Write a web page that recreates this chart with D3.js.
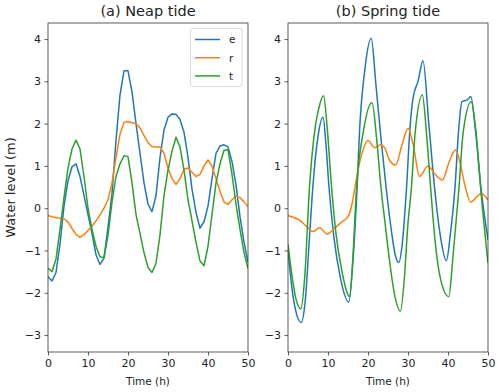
<!DOCTYPE html>
<html>
<head>
<meta charset="utf-8">
<script src="https://cdn.jsdelivr.net/npm/d3@7"></script>
<style>
  body { margin: 0; background: #fff; }
  svg { font-family: "DejaVu Sans", sans-serif; }
</style>
</head>
<body>
<script>
// neap tide, hourly samples t = 0..50
var neapHours = d3.range(0, 51);
var neapE = [-1.62, -1.72, -1.52, -0.85, 0.05, 0.65, 0.98, 1.05, 0.75, 0.3, -0.15,
    -0.6, -1.1, -1.33, -1.18, -0.45, 0.35, 1.6, 2.68, 3.25, 3.25,
    2.75, 2.0, 1.3, 0.6, 0.1, -0.08, 0.3, 1.2, 1.85, 2.15,
    2.23, 2.22, 2.1, 1.8, 1.2, 0.45, -0.1, -0.47, -0.32, 0.05,
    0.7, 1.3, 1.47, 1.5, 1.45, 1.1, 0.55, -0.2, -0.8, -1.28];
var neapR = [-0.17, -0.2, -0.22, -0.24, -0.25, -0.33, -0.48, -0.62, -0.69, -0.62, -0.53,
    -0.42, -0.3, -0.16, 0.0, 0.2, 0.6, 1.2, 1.75, 2.03, 2.05,
    2.02, 2.0, 1.9, 1.72, 1.55, 1.46, 1.45, 1.45, 1.3, 0.95,
    0.7, 0.56, 0.7, 0.92, 0.95, 0.85, 0.75, 0.8, 1.0, 1.14,
    1.0, 0.7, 0.4, 0.15, 0.09, 0.2, 0.29, 0.25, 0.15, 0.04];
var neapT = [-1.42, -1.5, -1.2, -0.5, 0.25, 0.95, 1.4, 1.61, 1.4, 0.75, 0.0,
    -0.5, -0.9, -1.15, -1.17, -0.65, 0.15, 0.75, 1.05, 1.24, 1.22,
    0.6, -0.15, -0.6, -1.05, -1.4, -1.52, -1.3, -0.63, 0.3, 0.9,
    1.35, 1.68, 1.45, 0.9, 0.2, -0.3, -0.8, -1.25, -1.36, -0.9,
    -0.15, 0.6, 1.05, 1.37, 1.38, 0.8, 0.1, -0.5, -1.05, -1.43];

// spring tide, key points [hour, level]
var springE = [[0, -1.0], [1, -1.9], [2, -2.45], [3.3, -2.7], [4.3, -2.2], [5.3, -0.8],
    [6.25, 0.55], [7.5, 1.7], [8.75, 2.15], [9.5, 1.5], [10.2, 0.55], [11.5, -0.7],
    [13, -1.6], [15.2, -2.22], [16.2, -1.3], [17.3, 0.55], [17.9, 1.85], [19.2, 3.27],
    [20.8, 4.02], [22, 2.9], [23.3, 1.6], [24.6, 0.43], [25.8, -0.5], [26.8, -1.1],
    [27.7, -1.28], [28.5, -0.9], [29.6, 0.43], [30.5, 1.9], [31.25, 2.6], [32.5, 3.0],
    [33.75, 3.49], [35.2, 2.0], [36.7, 0.43], [38, -0.6], [39.6, -1.24], [40.6, -0.6],
    [41.7, 0.43], [42.7, 1.9], [43.5, 2.52], [44.8, 2.56], [45.7, 2.64], [46.8, 1.9],
    [48.3, 0.43], [50, -0.75]];
var springR = [[0, -0.17], [1.5, -0.22], [2.9, -0.28], [4.5, -0.42], [6.25, -0.55],
    [7.9, -0.46], [9.75, -0.61], [11.7, -0.47], [13.5, -0.32], [15, -0.2], [16, 0.1],
    [16.7, 0.47], [17.5, 0.9], [18.5, 1.3], [20, 1.6], [21.7, 1.43], [23.1, 1.5],
    [24.2, 1.42], [25.3, 1.15], [26.9, 1.02], [28.5, 1.5], [30, 1.89], [31.3, 1.5],
    [32.9, 0.75], [35, 1.0], [36.8, 0.8], [38.6, 0.67], [40.3, 1.1], [41.9, 1.38],
    [43.2, 1.0], [44.2, 0.55], [45.7, 0.14], [47, 0.25], [48.3, 0.35], [50, 0.2]];
var springT = [[0, -0.85], [1, -1.6], [2, -2.15], [3.2, -2.38], [4.2, -1.6], [5.4, 0.55],
    [6.5, 1.7], [7.8, 2.4], [8.9, 2.66], [9.8, 1.9], [10.85, 0.55], [12, -0.6],
    [13.5, -1.5], [15.4, -2.09], [16.2, -1.2], [17.1, 0.43], [18.9, 1.85], [21, 2.5],
    [22.2, 1.6], [23.3, 0.43], [24.2, -0.3], [25.3, -1.18], [26.5, -1.97], [28.1, -2.43],
    [29.1, -1.65], [29.9, -0.47], [30.8, 0.43], [31.8, 1.8], [33.6, 2.68], [34.6, 1.8],
    [35.7, 0.43], [36.8, -0.8], [38.2, -1.7], [40.2, -2.09], [41.2, -1.2], [42.7, 0.43],
    [43.8, 1.8], [45.8, 2.52], [47, 1.8], [48.2, 0.43], [50, -1.3]];

var seriesNames = ["e", "r", "t"];
var colors = ["#1f77b4", "#ff7f0e", "#2ca02c"];
var titles = ["(a) Neap tide", "(b) Spring tide"];
var xTicks = [0, 10, 20, 30, 40, 50];
var yTicks = [-3, -2, -1, 0, 1, 2, 3, 4];

var width = 500,
    height = 392,
    plotTop = 23,
    plotBottom = 352,
    panelLeft = [48, 288],
    panelWidth = 200,
    tickSize = "11px",
    labelSize = "10.5px";

var svg = d3.select("body")
    .append("svg")
    .attr("width", width)
    .attr("height", height);

var y = d3.scaleLinear().domain([-3.4, 4.38]).range([plotBottom, plotTop]);

function zipHours(vals) {
    return neapHours.map(function (h, i) { return [h, vals[i]]; });
}

var panels = [
    { data: [zipHours(neapE), zipHours(neapR), zipHours(neapT)], curve: d3.curveLinear },
    { data: [springE, springR, springT], curve: d3.curveMonotoneX }
];

panels.forEach(function (p, k) {
    var x = d3.scaleLinear().domain([0, 50]).range([panelLeft[k], panelLeft[k] + panelWidth]);

    var g = svg.append("g");

    var clipId = "clip" + k;
    svg.append("clipPath").attr("id", clipId)
        .append("rect")
        .attr("x", panelLeft[k]).attr("y", plotTop)
        .attr("width", panelWidth).attr("height", plotBottom - plotTop);

    var line = d3.line()
        .x(function (d) { return x(d[0]); })
        .y(function (d) { return y(d[1]); })
        .curve(p.curve);

    p.data.forEach(function (s, i) {
        g.append("path")
            .attr("d", line(s))
            .attr("clip-path", "url(#" + clipId + ")")
            .attr("fill", "none")
            .attr("stroke", colors[i])
            .attr("stroke-width", 1.5)
            .attr("stroke-linejoin", "round");
    });

    // frame
    g.append("rect")
        .attr("x", panelLeft[k]).attr("y", plotTop)
        .attr("width", panelWidth).attr("height", plotBottom - plotTop)
        .attr("fill", "none")
        .attr("stroke", "#333")
        .attr("stroke-width", 0.8);

    var xAxis = g.append("g")
        .attr("transform", "translate(0," + plotBottom + ")")
        .call(d3.axisBottom(x).tickValues(xTicks).tickSize(3.5).tickPadding(3.5));
    var yAxis = g.append("g")
        .attr("transform", "translate(" + panelLeft[k] + ",0)")
        .call(d3.axisLeft(y).tickValues(yTicks).tickSize(3.5).tickPadding(3.5)
            .tickFormat(function (d) { return d < 0 ? "\u2212" + Math.abs(d) : d; }));
    [xAxis, yAxis].forEach(function (a) {
        a.select(".domain").remove();
        a.selectAll("line").attr("stroke", "#333").attr("stroke-width", 0.8);
        a.selectAll("text")
            .attr("fill", "#222")
            .style("font-size", tickSize)
            .style("font-family", "DejaVu Sans");
    });

    g.append("text")
        .attr("x", panelLeft[k] + panelWidth / 2)
        .attr("y", 16)
        .attr("text-anchor", "middle")
        .style("font-size", "14.5px")
        .attr("fill", "#222")
        .text(titles[k]);

    g.append("text")
        .attr("x", panelLeft[k] + panelWidth / 2)
        .attr("y", 385)
        .attr("text-anchor", "middle")
        .style("font-size", labelSize)
        .attr("fill", "#222")
        .text("Time (h)");
});

svg.append("text")
    .attr("transform", "translate(15," + ((plotTop + plotBottom) / 2) + ") rotate(-90)")
    .attr("text-anchor", "middle")
    .style("font-size", "13px")
    .attr("fill", "#222")
    .text("Water level (m)");

// legend in panel (a)
var legend = svg.append("g");
legend.append("rect")
    .attr("x", 190.5).attr("y", 28.5)
    .attr("width", 51.5).attr("height", 58)
    .attr("rx", 2.5)
    .attr("fill", "#fff")
    .attr("fill-opacity", 0.8)
    .attr("stroke", "#d0d0d0")
    .attr("stroke-width", 0.8);
seriesNames.forEach(function (n, i) {
    var ly = 39.5 + i * 18.2;
    legend.append("line")
        .attr("x1", 195).attr("x2", 220)
        .attr("y1", ly).attr("y2", ly)
        .attr("stroke", colors[i])
        .attr("stroke-width", 1.5);
    legend.append("text")
        .attr("x", 229).attr("y", ly + 3.8)
        .style("font-size", labelSize)
        .attr("fill", "#222")
        .text(n);
});
</script>
</body>
</html>
